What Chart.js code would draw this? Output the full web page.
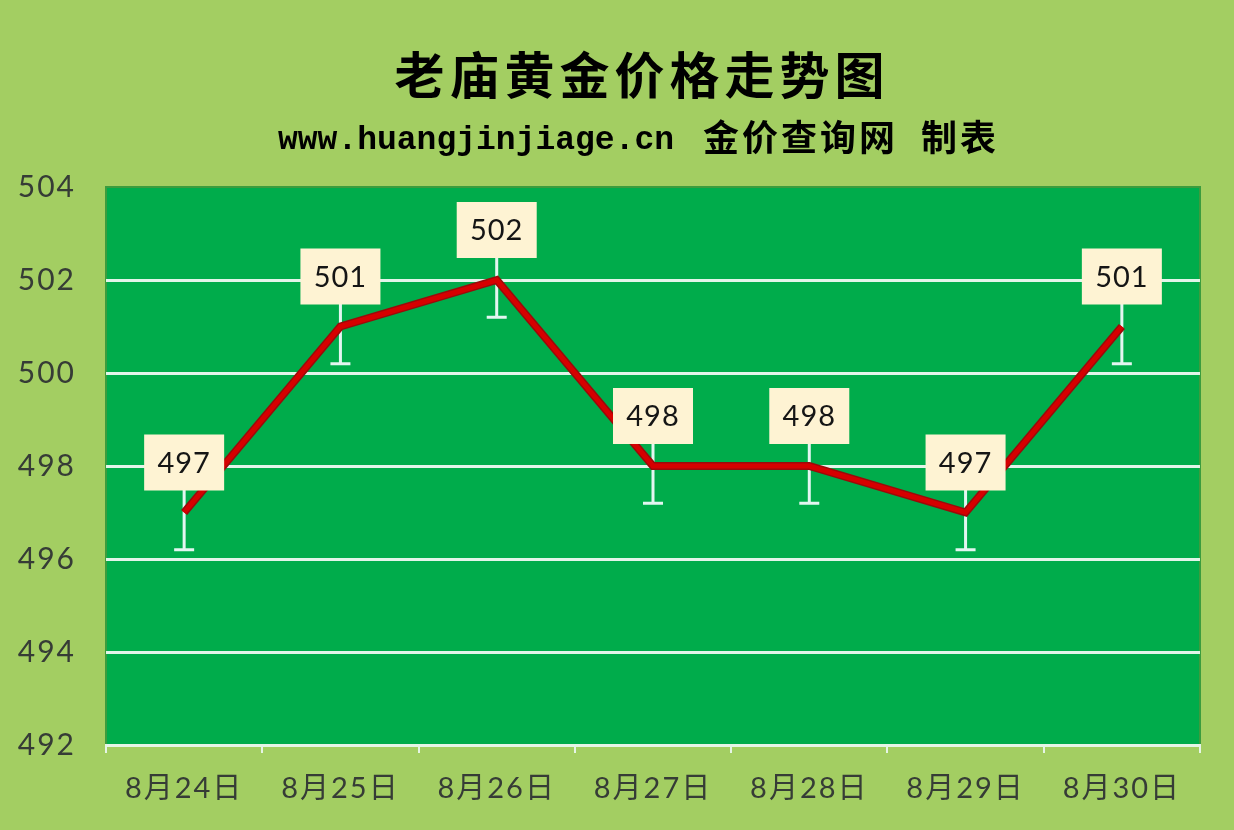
<!DOCTYPE html>
<html>
<head>
<meta charset="utf-8">
<script src="https://cdn.jsdelivr.net/npm/chart.js@4/dist/chart.umd.min.js"></script>
<style>
  html, body { margin: 0; padding: 0; background: #A3CE62; }
  #wrap { width: 1234px; height: 830px; }
</style>
</head>
<body>
<div id="wrap"><canvas id="c" width="1234" height="830"></canvas></div>
<script>
// ---- data ----
const titleText = "老庙黄金价格走势图";
const subtitleUrl = "www.huangjinjiage.cn";
const subtitleSite = "金价查询网";
const subtitleMade = "制表";
const categories = ["8月24日", "8月25日", "8月26日", "8月27日", "8月28日", "8月29日", "8月30日"];
const prices = [497, 501, 502, 498, 498, 497, 501];
const errorMargins = [0.8, 0.8, 0.8, 0.8, 0.8, 0.8, 0.8];
const yTicks = [492, 494, 496, 498, 500, 502, 504];

const headings = {
  id: 'headings',
  afterDraw(chart) {
    const { ctx } = chart;
    ctx.save();
    ctx.fillStyle = '#000';
    ctx.letterSpacing = '5px';
    ctx.font = 'bold 50px "Noto Sans CJK SC", serif';
    ctx.textAlign = 'center';
    ctx.textBaseline = 'middle';
    ctx.fillText(titleText, 642, 75);
    ctx.textAlign = 'left';
    ctx.letterSpacing = '0px';
    ctx.font = 'bold 33px "Liberation Mono", monospace';
    ctx.textBaseline = 'alphabetic';
    ctx.fillText(subtitleUrl, 278, 149);
    ctx.textBaseline = 'middle';
    ctx.font = 'bold 36px "Noto Sans CJK SC", sans-serif';
    ctx.letterSpacing = '3px';
    ctx.fillText(subtitleSite, 703, 137);
    ctx.fillText(subtitleMade, 921, 137);
    ctx.restore();
  }
};

const plotBg = {
  id: 'plotBg',
  beforeDraw(chart) {
    const { ctx, chartArea: a } = chart;
    ctx.save();
    ctx.fillStyle = '#00AC4B';
    ctx.fillRect(a.left, a.top, a.right - a.left, a.bottom - a.top);
    ctx.strokeStyle = '#3C9C3E';
    ctx.lineWidth = 2;
    ctx.beginPath();
    ctx.moveTo(a.left, a.bottom);
    ctx.lineTo(a.left, a.top);
    ctx.lineTo(a.right, a.top);
    ctx.lineTo(a.right, a.bottom);
    ctx.stroke();
    ctx.restore();
    ctx.letterSpacing = '2px';
  },
  afterDraw(chart) {
    chart.ctx.letterSpacing = '0px';
  }
};

const errorBars = {
  id: 'errorBars',
  beforeDatasetsDraw(chart) {
    const { ctx } = chart;
    const xs = chart.scales.x, ys = chart.scales.y;
    ctx.save();
    ctx.strokeStyle = '#E3F6F1';
    ctx.lineWidth = 3;
    prices.forEach((v, i) => {
      const x = xs.getPixelForValue(i);
      const yTop = ys.getPixelForValue(v + errorMargins[i]);
      const yBot = ys.getPixelForValue(v - errorMargins[i]);
      ctx.beginPath();
      ctx.moveTo(x, yTop); ctx.lineTo(x, yBot);
      ctx.moveTo(x - 10, yBot); ctx.lineTo(x + 10, yBot);
      ctx.moveTo(x - 10, yTop); ctx.lineTo(x + 10, yTop);
      ctx.stroke();
    });
    ctx.restore();
  }
};

const valueLabels = {
  id: 'valueLabels',
  afterDatasetsDraw(chart) {
    const { ctx } = chart;
    const meta = chart.getDatasetMeta(0);
    ctx.save();
    ctx.letterSpacing = '1px';
    ctx.font = '29px Lato, "Liberation Sans", sans-serif';
    ctx.textAlign = 'center';
    ctx.textBaseline = 'middle';
    meta.data.forEach((pt, i) => {
      const w = 80, h = 56;
      const cx = pt.x, cy = pt.y - 50;
      ctx.fillStyle = '#FEF3D3';
      ctx.fillRect(cx - w / 2, cy - h / 2, w, h);
      ctx.fillStyle = '#151515';
      ctx.fillText(String(prices[i]), cx, cy + 1);
    });
    ctx.restore();
  }
};

new Chart(document.getElementById('c'), {
  type: 'line',
  data: {
    labels: categories,
    datasets: [{
      data: prices,
      borderColor: '#D60000',
      borderWidth: 5,
      pointRadius: 0,
      tension: 0,
      borderJoinStyle: 'miter',
      fill: false,
      order: 1
    }, {
      data: prices,
      borderColor: '#9A0A0A',
      borderWidth: 8,
      pointRadius: 0,
      tension: 0,
      borderJoinStyle: 'miter',
      fill: false,
      order: 2
    }]
  },
  options: {
    responsive: false,
    animation: false,
    devicePixelRatio: 1,
    layout: { padding: { left: 0, right: 34, top: 187, bottom: 0 } },
    plugins: {
      legend: { display: false },
      tooltip: { enabled: false },
      title: { display: false },
      subtitle: { display: false }
    },
    scales: {
      x: {
        type: 'category',
        offset: true,
        grid: {
          display: true,
          offset: true,
          drawOnChartArea: false,
          drawTicks: true,
          tickLength: 8,
          color: '#E6F5E6',
          lineWidth: 2
        },
        border: { display: true, color: '#E6F5E6', width: 3 },
        ticks: {
          color: '#363C36',
          font: { family: 'Lato, "Noto Sans CJK SC", sans-serif', size: 29 },
          padding: 18,
          maxRotation: 0,
          autoSkip: false
        },
        afterFit(scale) { scale.height = 85; }
      },
      y: {
        min: 492,
        max: 504,
        afterBuildTicks(scale) { scale.ticks = yTicks.map(v => ({ value: v })); },
        grid: {
          drawTicks: false,
          tickLength: 0,
          lineWidth: 3,
          color: (c) => (c.tick && c.tick.value === 504) ? 'rgba(0,0,0,0)' : '#E2F5EA'
        },
        border: { display: false },
        ticks: {
          color: '#363C36',
          font: { family: 'Lato, "Liberation Sans", sans-serif', size: 30 },
          padding: 30
        },
        afterFit(scale) { scale.width = 106; }
      }
    }
  },
  plugins: [plotBg, errorBars, valueLabels, headings]
});
</script>
</body>
</html>
